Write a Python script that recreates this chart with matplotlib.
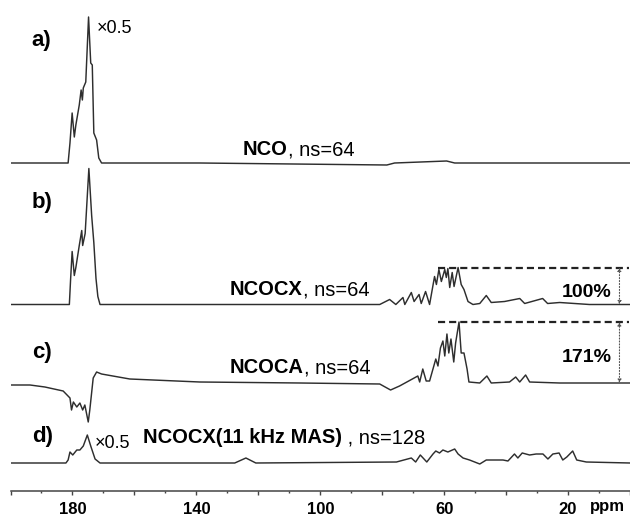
import matplotlib
matplotlib.use("Agg")
import matplotlib.pyplot as plt
from matplotlib.ticker import MultipleLocator

plt.rcParams["font.family"] = ["Liberation Sans", "DejaVu Sans"]

# Spectra: chemical shift (ppm) and intensity (a.u.)
ppm_a = [200, 190.5, 181.4, 180.8, 180.1, 179.4, 178.9, 177.8, 177.2, 176.8, 176.5,
         175.7, 174.8, 174.1, 173.6, 173.1, 172.2, 171.5, 170.6, 138.9, 78.5, 76.0,
         59.2, 56.6, 0]
int_a = [0, 0, 0, 20, 50, 26, 38, 58, 73, 63, 75, 81, 146, 100, 98, 30, 23, 5, 0,
         0, -2, 0, 2, 0, 0]

ppm_b = [200, 181.0, 180.6, 180.1, 179.4, 178.9, 177.8, 177.0, 176.7, 175.9, 174.7,
         173.8, 173.1, 172.4, 171.8, 171.1, 80.8, 77.6, 75.6, 73.3, 72.7, 70.6, 69.7,
         68.1, 67.4, 66.0, 64.7, 63.1, 62.5, 61.7, 60.9, 59.8, 59.3, 58.8, 58.2, 57.4,
         56.8, 55.5, 54.5, 53.6, 52.3, 50.7, 48.5, 46.4, 44.8, 40.5, 35.6, 34.0, 28.2,
         26.6, 22.7, 13.1, 0]
int_b = [0, 0, 25, 53, 29, 37, 59, 74, 59, 71, 136, 89, 62, 26, 8, 0, 0, 5, 0, 7,
         0, 12, 3, 10, 1, 13, 0, 28, 20, 35, 23, 35, 27, 36, 17, 32, 18, 37, 20, 15,
         3, 0, 1, 9, 2, 3, 6, 1, 6, 1, 2, 0, 0]

ppm_c = [200, 193.7, 188.9, 183.0, 180.8, 180.3, 179.7, 178.6, 177.6, 176.7, 176.0,
         174.9, 174.4, 173.3, 172.2, 170.6, 161.5, 138.9, 106.6, 80.8, 77.3, 74.4,
         68.5, 67.9, 66.9, 65.8, 64.7, 62.7, 62.0, 61.2, 60.4, 59.8, 59.1, 58.5, 57.8,
         56.9, 56.3, 55.2, 54.5, 53.6, 52.6, 52.0, 48.5, 46.2, 44.8, 38.9, 36.9, 35.6,
         33.7, 32.4, 22.7, 0]
int_c = [-2, -2, -4, -8, -15, -27, -19, -24, -20, -27, -22, -39, -27, 5, 11, 9, 4, 1,
         0, -1, -7, -3, 7, 1, 14, 2, 2, 24, 17, 35, 42, 27, 49, 30, 44, 21, 40, 61,
         30, 30, 14, 1, 0, 7, 0, 1, 6, 1, 8, 1, 0, 0]

ppm_d = [200, 182.1, 181.4, 180.8, 179.9, 178.6, 177.6, 176.5, 175.2, 174.1, 172.7,
         171.1, 127.6, 124.0, 120.8, 75.4, 70.6, 69.2, 67.7, 65.6, 63.6, 62.7, 61.5,
         60.4, 58.8, 56.6, 55.5, 53.9, 51.8, 48.5, 46.4, 41.0, 39.4, 37.3, 36.2, 34.8,
         32.4, 30.3, 28.1, 26.5, 24.9, 22.9, 21.7, 20.4, 18.5, 17.2, 14.1, 0]
int_d = [0, 0, 3, 11, 8, 13, 13, 17, 28, 17, 4, 0, 0, 5, 0, 1, 5, 1, 8, 1, 9, 12,
         10, 13, 11, 14, 9, 5, 3, -1, 3, 3, 2, 9, 5, 10, 8, 9, 9, 4, 9, 10, 3, 6, 12,
         3, 1, 0]

offset_a, offset_b, offset_c, offset_d = 327.5, 186, 107.5, 27.5
tick_values = [180, 140, 100, 60, 20]

fig = plt.figure(figsize=(6.3, 5.16), dpi=100)
ax = fig.add_axes([10.5 / 630, 1 - 490.5 / 516, 619.5 / 630, 490.5 / 516])

line_kw = dict(color="#2e2e2e", lw=1.05)
ax.plot(ppm_a, [v + offset_a for v in int_a], **line_kw)
ax.plot(ppm_b, [v + offset_b for v in int_b], **line_kw)
ax.plot(ppm_c, [v + offset_c for v in int_c], **line_kw)
ax.plot(ppm_d, [v + offset_d for v in int_d], **line_kw)

ax.set_xlim(200, 0)
ax.set_ylim(0, 490.5)

# panel labels
for lab, yb in [("a)", 444.5), ("b)", 282.5), ("c)", 132.5), ("d)", 48.5)]:
    ax.text(193.1, yb, lab, fontsize=16, fontweight="bold", va="baseline", ha="left")

ax.text(172.1, 457.5, "×0.5", fontsize=13, va="baseline")
ax.text(172.7, 42.5, "×0.5", fontsize=13, va="baseline")

# spectrum names: bold part followed by regular part
fig.canvas.draw()
renderer = fig.canvas.get_renderer()


def label(x, y, bold, normal):
    t = ax.text(x, y, bold, fontsize=14.5, fontweight="bold", va="baseline")
    bb = t.get_window_extent(renderer)
    x_end = ax.transData.inverted().transform((bb.x1, bb.y0))[0]
    ax.text(x_end, y, normal, fontsize=14.5, va="baseline")


label(125.0, 335.5, "NCO", ", ns=64")
label(129.2, 195.5, "NCOCX", ", ns=64")
label(129.2, 117.5, "NCOCA", ", ns=64")
label(157.3, 47.5, "NCOCX(11 kHz MAS)", " , ns=128")

# relative intensity markers
top_b = max(int_b[16:]) + offset_b
top_c = max(int_c[16:]) + offset_c
dash_kw = dict(color="#222222", lw=1.6, ls=(0, (3.2, 1.8)))
ax.plot([62.1, 0.3], [top_b, top_b], **dash_kw)
ax.plot([62.1, 0.3], [top_c, top_c], **dash_kw)
arrow_kw = dict(arrowstyle="<|-|>", color="#555555", lw=0.8, ls=":",
                mutation_scale=5, shrinkA=0, shrinkB=0)
ax.annotate("", xy=(3.4, offset_b), xytext=(3.4, top_b), arrowprops=arrow_kw)
ax.annotate("", xy=(3.4, offset_c), xytext=(3.4, top_c), arrowprops=arrow_kw)
ax.text(6.0, 193.5, "100%", fontsize=14, fontweight="bold", ha="right", va="baseline")
ax.text(6.0, 128.5, "171%", fontsize=14, fontweight="bold", ha="right", va="baseline")

# axis styling
for side in ["left", "top", "right"]:
    ax.spines[side].set_visible(False)
ax.spines["bottom"].set_color("#444444")
ax.spines["bottom"].set_linewidth(1.1)
ax.set_yticks([])
ax.xaxis.set_minor_locator(MultipleLocator(10))
ax.set_xticks(list(range(200, -1, -20)))
ax.set_xticklabels([str(v) if v in tick_values else "" for v in range(200, -1, -20)])
ax.tick_params(axis="x", which="major", direction="out", length=2.6, width=1.0,
               color="#444444", pad=5.5, labelsize=12)
ax.tick_params(axis="x", which="minor", direction="out", length=1.6, width=1.0,
               color="#444444")
for t in ax.get_xticklabels():
    t.set_fontweight("bold")
ax.text(13.0, -20.5, "ppm", fontsize=12, fontweight="bold", va="baseline",
        ha="left", clip_on=False)

fig.savefig("out.png", dpi=100)
